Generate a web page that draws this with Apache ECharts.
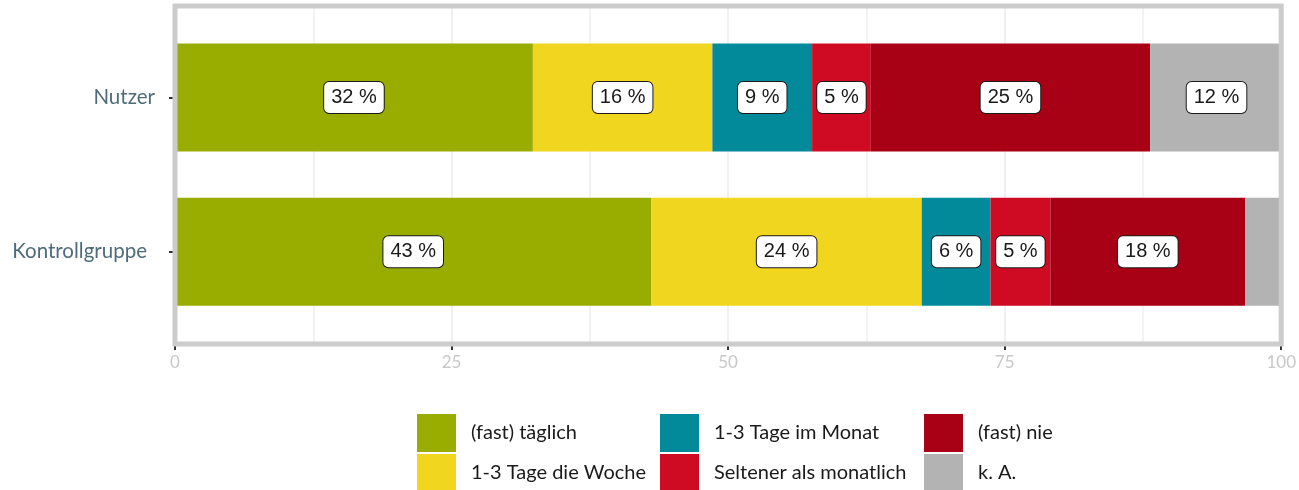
<!DOCTYPE html>
<html>
<head>
<meta charset="utf-8">
<script src="https://cdn.jsdelivr.net/npm/echarts@6/dist/echarts.min.js"></script>
<style>html,body{margin:0;padding:0;background:#fff}#c{width:1299px;height:490px}</style>
</head>
<body>
<div id="c"></div>
<script>
// Categories (bottom to top)
var categories = ['Kontrollgruppe', 'Nutzer'];
// Series names
var seriesNames = ['(fast) täglich', '1-3 Tage die Woche', '1-3 Tage im Monat', 'Seltener als monatlich', '(fast) nie', 'k. A.'];
var seriesColors = ['#98ad00', '#f0d61e', '#028a9b', '#ce0b23', '#a80015', '#b3b3b3'];
// Values per series: [Kontrollgruppe, Nutzer]
var fastTaeglich   = [43.0, 32.3];
var tageWoche      = [24.4, 16.2];
var tageMonat      = [6.2, 9.0];
var seltener       = [5.4, 5.3];
var fastNie        = [17.6, 25.2];
var keineAngabe    = [3.4, 12.0];
var seriesValues = [fastTaeglich, tageWoche, tageMonat, seltener, fastNie, keineAngabe];
var xTicks = [0, 25, 50, 75, 100];

var chart = echarts.init(document.getElementById('c'), null, {renderer: 'canvas'});

var series = seriesNames.map(function (name, i) {
  return {
    name: name,
    type: 'bar',
    stack: 'total',
    xAxisIndex: 1,
    yAxisIndex: 1,
    barWidth: '70%',
    itemStyle: {color: seriesColors[i]},
    data: seriesValues[i].map(function (v) {
      return {value: v, label: {show: v >= 4}};
    }),
    label: {
      show: true,
      position: 'inside',
      formatter: function (p) { return Math.round(p.value) + ' %'; },
      fontFamily: 'Liberation Sans, Arial, sans-serif',
      fontSize: 20,
      lineHeight: 20,
      color: '#1a1a1a',
      backgroundColor: '#ffffff',
      borderColor: '#1a1a1a',
      borderWidth: 1,
      borderRadius: 5,
      padding: [6, 7, 5, 7]
    },
    emphasis: {disabled: true}
  };
});

function legendFor(names, left) {
  return {
    orient: 'vertical',
    left: left,
    top: 409,
    height: 120,
    itemWidth: 39,
    itemHeight: 38,
    itemGap: 2,
    icon: 'rect',
    selectedMode: false,
    data: names,
    textStyle: {
      fontFamily: 'Lato, "Open Sans", sans-serif',
      fontSize: 20,
      color: '#1a1a1a',
      padding: [0, 0, 0, 10]
    }
  };
}

var option = {
  animation: false,
  backgroundColor: '#ffffff',
  grid: [
    {left: 175, right: 16, top: 6, bottom: 146, show: true, z: 5,
     borderColor: '#cccccc', borderWidth: 5, backgroundColor: 'transparent'},
    {left: 175, right: 16, top: 20.4, bottom: 161.2}
  ],
  xAxis: [
    {
      type: 'value', gridIndex: 0, min: 0, max: 100, interval: 25,
      axisLine: {show: false},
      axisTick: {show: true, length: 6, lineStyle: {color: '#333333', width: 2}},
      axisLabel: {
        margin: 10,
        color: '#c8c8c8',
        fontFamily: 'Lato, "Open Sans", sans-serif',
        fontSize: 17,
        formatter: function (v) { return xTicks.indexOf(v) >= 0 ? String(v) : ''; }
      },
      splitLine: {show: true, lineStyle: {color: '#ebebeb', width: 1.5}},
      minorTick: {show: false, splitNumber: 2},
      minorSplitLine: {show: true, lineStyle: {color: '#f0f0f0', width: 1.5}}
    },
    {type: 'value', gridIndex: 1, min: 0, max: 100, show: false}
  ],
  yAxis: [
    {type: 'category', gridIndex: 0, data: categories, show: false},
    {
      type: 'category', gridIndex: 1, data: categories,
      axisLine: {show: false},
      axisTick: {show: true, alignWithLabel: true, length: 6, lineStyle: {color: '#333333', width: 2}},
      axisLabel: {
        margin: 20,
        formatter: function (v) { return v === 'Kontrollgruppe' ? '{k|' + v + '}' : '{n|' + v + '}'; },
        rich: {
          k: {fontFamily: 'Lato, "Open Sans", sans-serif', fontSize: 20.5, color: '#4f6c7a', padding: [0, 8, 0, 0]},
          n: {fontFamily: 'Lato, "Open Sans", sans-serif', fontSize: 20.5, color: '#4f6c7a'}
        }
      },
      splitLine: {show: false}
    }
  ],
  legend: [
    legendFor([seriesNames[0], seriesNames[1]], 412),
    legendFor([seriesNames[2], seriesNames[3]], 655),
    legendFor([seriesNames[4], seriesNames[5]], 919)
  ],
  series: series
};
chart.setOption(option);
</script>
</body>
</html>
